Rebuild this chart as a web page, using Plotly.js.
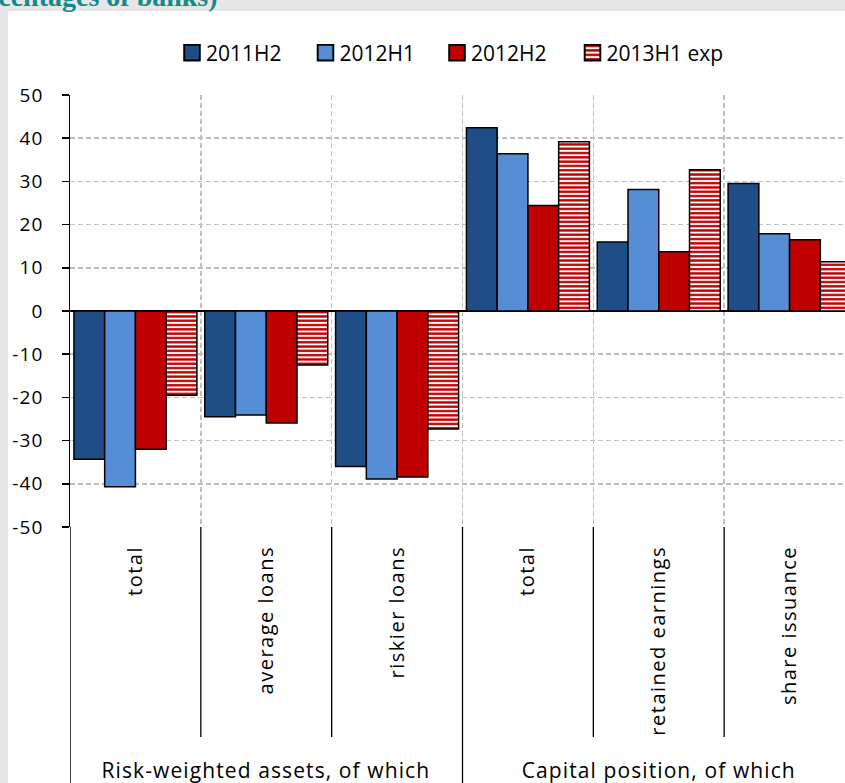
<!DOCTYPE html>
<html>
<head>
<meta charset="utf-8">
<script src="https://cdn.plot.ly/plotly-3.0.1.min.js"></script>
<style>
  html, body { margin: 0; padding: 0; background: #e6e6e6; }
  #chart { width: 845px; height: 783px; }
  #chart .legendpoints path { scale: 1.3; transform-box: fill-box; transform-origin: center; }
  #chart .xtick text { letter-spacing: 1.5px; }
  #chart .ytick text { letter-spacing: 1.2px; }
  #chart g.annotation[data-index="0"] text,
  #chart g.annotation[data-index="1"] text { letter-spacing: 1.1px; }
</style>
</head>
<body>
<div id="chart"></div>
<script>
// ---- data ----
const categories = ['total', 'average loans', 'riskier loans', 'total', 'retained earnings', 'share issuance'];
const groups = ['Risk-weighted assets, of which', 'Capital position, of which'];
const groupOf = [0, 0, 0, 1, 1, 1];
const seriesNames = ['2011H2', '2012H1', '2012H2', '2013H1 exp'];
const v2011H2 = [-34.3, -24.5, -36.0, 42.4, 16.0, 29.5];
const v2012H1 = [-40.7, -24.1, -38.9, 36.4, 28.1, 17.9];
const v2012H2 = [-32.0, -25.9, -38.4, 24.4, 13.7, 16.5];
const v2013H1exp = [-19.5, -12.5, -27.3, 39.2, 32.7, 11.4];
const yTickVals = [-50, -40, -30, -20, -10, 0, 10, 20, 30, 40, 50];
const yTickText = ['-50', '-40', '-30', '-20', '-10', '0', '10', '20', '30', '40', '50'];
const titleText = '(percentages of banks)';

// ---- layout helpers ----
const W = 845, H = 783;
const mL = 70, mR = 0, mT = 95, mB = 256;
const plotW = W - mL - mR, plotH = H - mT - mB;
const py = px => 1 - (px - mT) / plotH;      // page y px -> paper y
const pxX = px => (px - mL) / plotW;          // page x px -> paper x

const xIdx = categories.map((c, i) => i);
const font = '"Open Sans", Lato, sans-serif';

const styles = [
  { color: '#1F4E86' },
  { color: '#558ED5' },
  { color: '#C00000' },
  { color: '#C00000', pattern: { shape: '-', fgcolor: '#C00000', bgcolor: '#FFFFFF', size: 4.3, solidity: 0.55 } }
];
const values = [v2011H2, v2012H1, v2012H2, v2013H1exp];
const legendIds = ['legend', 'legend2', 'legend3', 'legend4'];
const legendLeft = [166, 299.5, 431, 566.5];   // page px of each legend entry

const traces = values.map((v, k) => ({
  type: 'bar',
  name: seriesNames[k],
  legend: legendIds[k],
  x: xIdx,
  y: v,
  marker: Object.assign({ line: { color: '#000000', width: 1.5 } }, styles[k]),
  hoverinfo: 'skip'
}));

// boundaries between categories
const bounds = [];
for (let i = 0; i < categories.length - 1; i++) bounds.push(i + 0.5);

const shapes = [];
// white chart area
shapes.push({ type: 'rect', xref: 'paper', yref: 'paper', layer: 'below',
  x0: pxX(8), x1: pxX(W + 10), y0: py(H + 10), y1: py(11),
  fillcolor: '#FFFFFF', line: { width: 0 } });
// dividers in the label area
bounds.forEach((b, i) => {
  const sameGroup = groupOf[i] === groupOf[i + 1];
  shapes.push({ type: 'line', xref: 'x', yref: 'paper', x0: b, x1: b,
    y0: 0, y1: sameGroup ? py(737) : py(H + 5),
    line: { color: '#000000', width: 1.3 } });
});
// left edge divider (continuation of axis)
shapes.push({ type: 'line', xref: 'x', yref: 'paper', x0: -0.5, x1: -0.5,
  y0: 0, y1: py(H + 5), line: { color: '#000000', width: 1.5 } });

// group labels
const annotations = groups.map((g, gi) => {
  const idx = groupOf.map((v, i) => v === gi ? i : null).filter(v => v !== null);
  const mid = (idx[0] + idx[idx.length - 1]) / 2;
  return { text: g, xref: 'x', yref: 'paper', x: mid, y: py(770), showarrow: false,
    xanchor: 'center', yanchor: 'middle', font: { family: font, size: 21, color: '#000000' } };
});
annotations.push({ text: titleText, xref: 'paper', yref: 'paper', x: pxX(220), y: py(14),
  xanchor: 'right', yanchor: 'bottom', showarrow: false,
  font: { family: '"Liberation Serif", "Times New Roman", serif', size: 28, color: '#17898B', weight: 'bold' } });

const layout = {
  width: W, height: H,
  margin: { l: mL, r: mR, t: mT, b: mB, pad: 0 },
  paper_bgcolor: '#e6e6e6',
  plot_bgcolor: '#FFFFFF',
  barmode: 'group',
  bargap: 0.06,
  bargroupgap: 0,
  showlegend: true,
  xaxis: {
    type: 'linear',
    range: [-0.5, -0.5 + categories.length * (plotW / (855 - 70)) ],
    tickmode: 'array', tickvals: xIdx, ticktext: categories,
    tickangle: -90, ticks: '', showgrid: false, zeroline: false, showline: false,
    tickfont: { family: font, size: 20, color: '#000000' },
    ticklabelstandoff: 14,
    minor: { tickmode: 'array', tickvals: bounds, showgrid: true, gridcolor: '#BFBFBF', gridwidth: 1.5, griddash: '5px,3px', ticks: '' },
    fixedrange: true
  },
  yaxis: {
    range: [-50, 50],
    tickmode: 'array', tickvals: yTickVals, ticktext: yTickText,
    ticks: 'outside', ticklen: 7, tickwidth: 1.5, tickcolor: '#000000',
    showline: true, linecolor: '#000000', linewidth: 1.5,
    showgrid: true, gridcolor: '#BFBFBF', gridwidth: 1.5, griddash: '5px,3px',
    zeroline: true, zerolinecolor: '#000000', zerolinewidth: 1.5,
    tickfont: { family: font, size: 19, color: '#000000' },
    ticklabelstandoff: 14,
    fixedrange: true
  },
  shapes: shapes,
  annotations: annotations
};
legendIds.forEach((id, k) => {
  layout[id] = { orientation: 'h', x: pxX(legendLeft[k]), xanchor: 'left', y: py(53), yanchor: 'middle',
    font: { family: font, size: 21, color: '#000000' }, bgcolor: 'rgba(0,0,0,0)' };
});

Plotly.newPlot('chart', traces, layout, { displayModeBar: false, staticPlot: true });
</script>
</body>
</html>
